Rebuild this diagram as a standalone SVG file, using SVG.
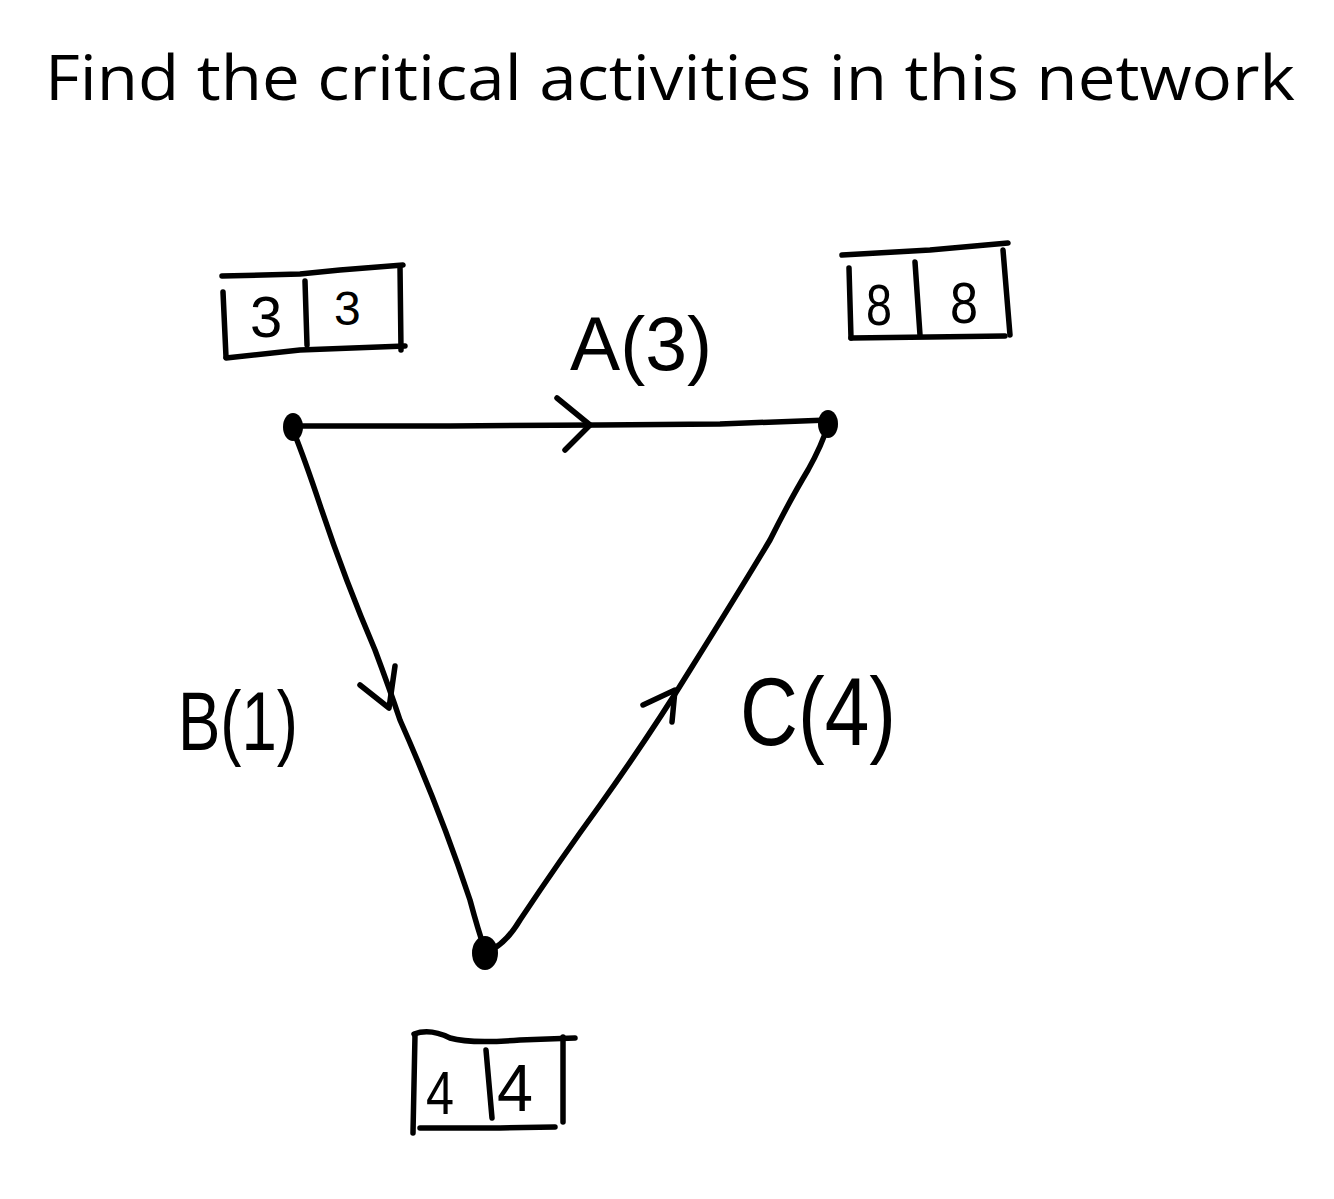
<svg xmlns="http://www.w3.org/2000/svg" width="1334" height="1199" viewBox="0 0 1334 1199">
<style>
.ln{fill:none;stroke:#000;stroke-width:5.5;stroke-linecap:round;stroke-linejoin:round}
.dot{fill:#000}
.title{font-family:"Open Sans","Liberation Sans",sans-serif;font-size:62px;fill:#000}
.hand{font-family:"Liberation Sans","DejaVu Sans",sans-serif;fill:#000}
</style>
<rect width="1334" height="1199" fill="#fff"/>
<text class="title" x="45" y="100" textLength="1250" lengthAdjust="spacingAndGlyphs">Find the critical activities in this network</text>
<g id="connectors">
  <g id="edge-A">
    <path class="ln" d="M293,426 L450,426 L600,425 L720,424 L828,420"/>
    <path class="ln" d="M557,398 L590,425 L565,450"/>
  </g>
  <g id="edge-B">
    <path class="ln" d="M293,430 Q305,460 320,505 Q345,580 375,650 Q390,690 400,720 Q440,810 470,900 Q478,930 485,950"/>
    <path class="ln" d="M360,685 L389,708 L395,666"/>
  </g>
  <g id="edge-C">
    <path class="ln" d="M487,952 Q505,945 520,920 Q560,860 600,805 Q650,735 690,670 Q740,590 770,540 Q790,500 808,470 Q822,445 828,425"/>
    <path class="ln" d="M643,705 L675,690 L672,722"/>
  </g>
</g>
<g id="node-1">
  <ellipse class="dot" cx="293" cy="427" rx="10" ry="14"/>
  <g id="box-1">
    <path class="ln" d="M222,276 L300,274 L340,270 L403,265"/>
    <path class="ln" d="M223,292 L226,357"/>
    <path class="ln" d="M226,358 L300,350 L405,346"/>
    <path class="ln" d="M400,266 L401,350"/>
    <path class="ln" d="M305,281 L307,345"/>
    <text class="hand" x="250" y="337" font-size="58">3</text>
    <text class="hand" x="334" y="325" font-size="48">3</text>
  </g>
</g>
<g id="node-2">
  <ellipse class="dot" cx="828" cy="424" rx="10" ry="14"/>
  <g id="box-2">
    <path class="ln" d="M842,255 L930,250 L1008,243"/>
    <path class="ln" d="M849,268 L851,338"/>
    <path class="ln" d="M851,338 L930,337 L1005,336"/>
    <path class="ln" d="M1003,250 L1010,335"/>
    <path class="ln" d="M915,262 L920,335"/>
    <text class="hand" x="866" y="325" font-size="58" textLength="26" lengthAdjust="spacingAndGlyphs">8</text>
    <text class="hand" x="950" y="323" font-size="58" textLength="28" lengthAdjust="spacingAndGlyphs">8</text>
  </g>
</g>
<g id="node-3">
  <ellipse class="dot" cx="485" cy="953" rx="13" ry="17"/>
  <g id="box-3">
    <path class="ln" d="M414,1034 Q430,1028 450,1038 Q470,1044 520,1040 L575,1038"/>
    <path class="ln" d="M415,1035 L413,1133"/>
    <path class="ln" d="M420,1128 L500,1128 L555,1127"/>
    <path class="ln" d="M563,1037 L563,1122"/>
    <path class="ln" d="M486,1050 L492,1118"/>
    <text class="hand" x="426" y="1114" font-size="62" textLength="28" lengthAdjust="spacingAndGlyphs">4</text>
    <text class="hand" x="497" y="1111" font-size="66" textLength="36" lengthAdjust="spacingAndGlyphs">4</text>
  </g>
</g>
<g id="labels">
  <text class="hand" x="570" y="370" font-size="76" textLength="142" lengthAdjust="spacingAndGlyphs">A(3)</text>
  <text class="hand" x="178" y="750" font-size="84" textLength="120" lengthAdjust="spacingAndGlyphs">B(1)</text>
  <text class="hand" x="740" y="745" font-size="96" textLength="156" lengthAdjust="spacingAndGlyphs">C(4)</text>
</g>
</svg>
